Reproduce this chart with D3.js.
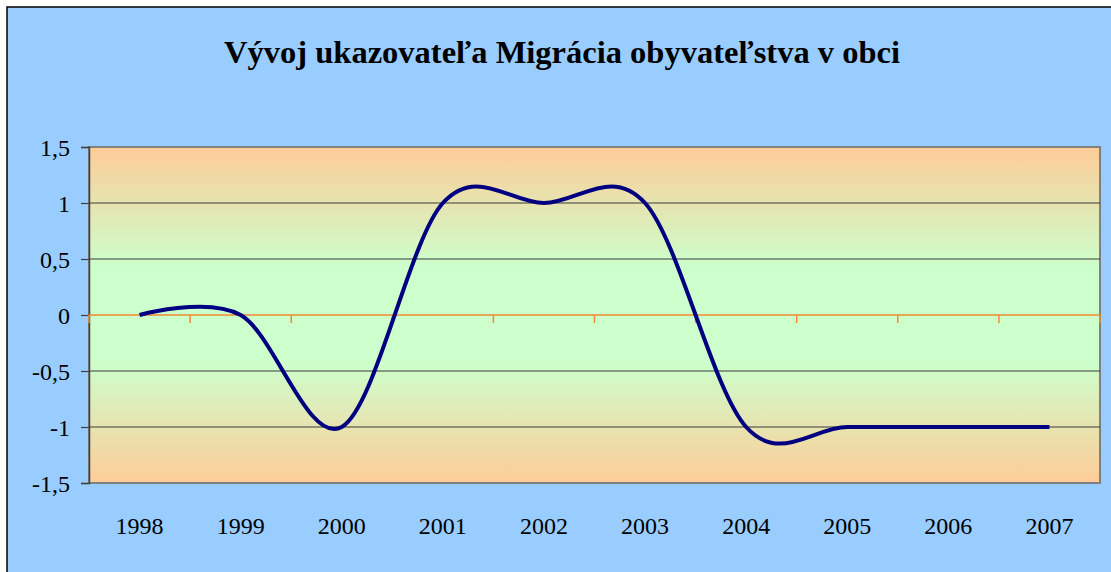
<!DOCTYPE html>
<html>
<head>
<meta charset="utf-8">
<script src="https://cdn.jsdelivr.net/npm/d3@7"></script>
<style>
  body { margin: 0; background: #fff; }
  svg { display: block; }
</style>
</head>
<body>
<div id="chart"></div>
<script>
const years = ['1998', '1999', '2000', '2001', '2002', '2003', '2004', '2005', '2006', '2007']
const values = [0, 0, -1, 1, 1, 1, -1, -1, -1, -1]
const yTicks = [-1.5, -1, -0.5, 0, 0.5, 1, 1.5]
const title = 'Vývoj ukazovateľa Migrácia obyvateľstva v obci'

const w = 1111;
const h = 572;
const plot = { left: 89, top: 147, right: 1100, bottom: 483 };
const font = '"Palatino Linotype", "Book Antiqua", Palatino, "Liberation Serif", serif';

const svg = d3.select('#chart').append('svg').attr('width', w).attr('height', h)

// chart area background + border
svg.append('rect')
    .attr('x', 7).attr('y', 7)
    .attr('width', w + 20).attr('height', h + 20)
    .attr('fill', '#99CCFF')
    .attr('stroke', '#000')
    .attr('stroke-width', 1.5)

svg.append('text')
    .attr('x', 562)
    .attr('y', 63)
    .attr('text-anchor', 'middle')
    .attr('font-family', font)
    .attr('font-weight', 'bold')
    .attr('font-size', '32.5px')
    .attr('fill', '#000')
    .text(title)

const x = d3.scaleBand().domain(years).range([plot.left, plot.right])
const y = d3.scaleLinear().domain([-1.5, 1.5]).range([plot.bottom, plot.top])

// plot area gradient
const grad = svg.append('defs').append('linearGradient')
    .attr('id', 'bg').attr('x1', 0).attr('y1', 0).attr('x2', 0).attr('y2', 1)
grad.append('stop').attr('offset', '0%').attr('stop-color', '#FECC98')
grad.append('stop').attr('offset', '36%').attr('stop-color', '#CCFFCC')
grad.append('stop').attr('offset', '64%').attr('stop-color', '#CCFFCC')
grad.append('stop').attr('offset', '100%').attr('stop-color', '#FECC98')

svg.append('rect')
    .attr('x', plot.left).attr('y', plot.top)
    .attr('width', plot.right - plot.left).attr('height', plot.bottom - plot.top)
    .attr('fill', 'url(#bg)')
    .attr('stroke', '#808080')
    .attr('stroke-width', 2)

// gridlines
svg.append('g')
    .selectAll('line')
    .data(yTicks.filter(d => d !== 0 && Math.abs(d) !== 1.5))
    .enter()
    .append('line')
    .attr('x1', plot.left).attr('x2', plot.right)
    .attr('y1', d => y(d)).attr('y2', d => y(d))
    .attr('stroke', '#3a3a3a')
    .attr('stroke-width', 1)

// y axis
const yAxis = svg.append('g')
    .attr('transform', `translate(${plot.left},0)`)
    .call(d3.axisLeft(y).tickValues(yTicks).tickSize(8).tickPadding(11)
        .tickFormat(d => String(d).replace('.', ',')))
yAxis.select('.domain').attr('stroke', '#404040').attr('stroke-width', 1.5)
yAxis.selectAll('.tick line').attr('stroke', '#404040').attr('stroke-width', 1.2)
yAxis.selectAll('text')
    .attr('font-family', font)
    .attr('font-size', '24px')
    .attr('fill', '#000')
    .attr('dy', '0.35em')

// x axis at zero (orange) with ticks between categories
svg.append('line')
    .attr('x1', plot.left).attr('x2', plot.right)
    .attr('y1', y(0)).attr('y2', y(0))
    .attr('stroke', '#F28A30')
    .attr('stroke-width', 1.5)
svg.append('g')
    .selectAll('line')
    .data(years.concat(['end']))
    .enter()
    .append('line')
    .attr('x1', (d, i) => plot.left + i * x.bandwidth())
    .attr('x2', (d, i) => plot.left + i * x.bandwidth())
    .attr('y1', y(0)).attr('y2', y(0) + 8)
    .attr('stroke', '#F28A30')
    .attr('stroke-width', 1.5)

// x labels
svg.append('g')
    .selectAll('text')
    .data(years)
    .enter()
    .append('text')
    .attr('x', d => x(d) + x.bandwidth() / 2)
    .attr('y', 534)
    .attr('text-anchor', 'middle')
    .attr('font-family', font)
    .attr('font-size', '24px')
    .attr('fill', '#000')
    .text(d => d)

// smoothed line
const line = d3.line()
    .x((d, i) => x(years[i]) + x.bandwidth() / 2)
    .y(d => y(d))
    .curve(d3.curveCardinal.tension(0))

svg.append('path')
    .datum(values)
    .attr('d', line)
    .attr('fill', 'none')
    .attr('stroke', '#000080')
    .attr('stroke-width', 4)
</script>
</body>
</html>
